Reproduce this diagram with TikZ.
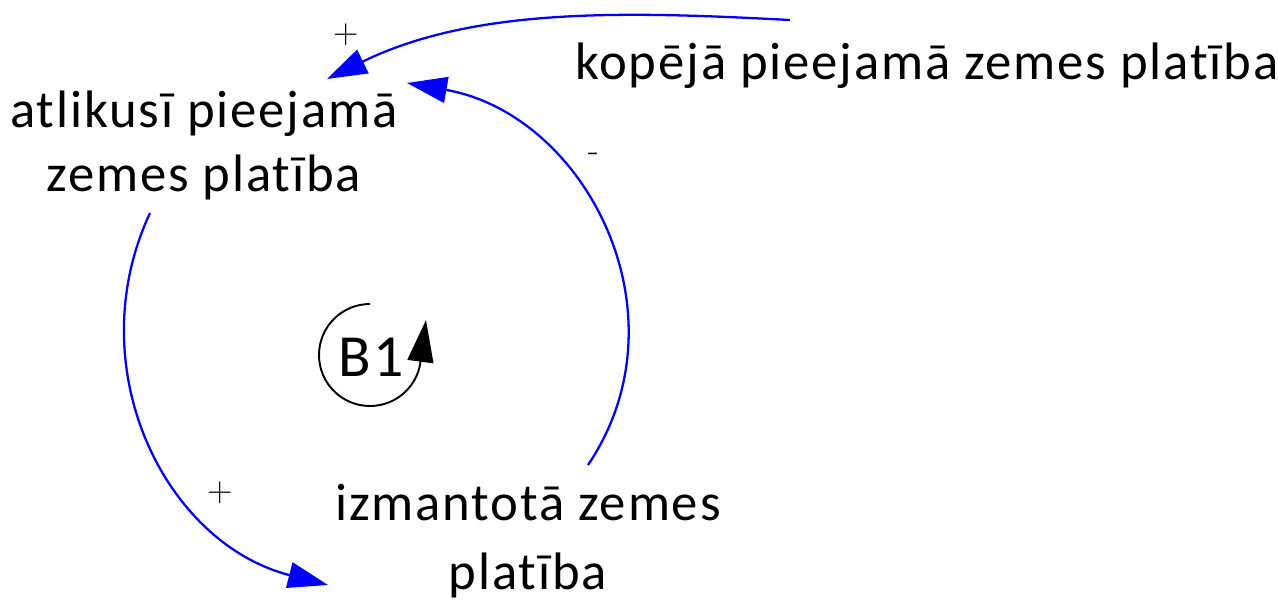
\documentclass[tikz,border=0pt]{standalone}
\usepackage{fontspec}
\newfontfamily\varfont{Carlito}[LetterSpace=3.5,Ligatures=NoCommon]
\usetikzlibrary{arrows.meta}
\tikzset{
  var/.style={font=\varfont\fontsize{30}{36}\selectfont, align=center, inner sep=0pt, anchor=base},
  link/.style={draw=blue, line width=1.3pt, -{Triangle[length=0.8cm,width=0.52cm]}},
  sgn/.style={font=\fontsize{20}{22}\selectfont, inner sep=0pt}
}
\begin{document}
\begin{tikzpicture}[x=0.02cm, y=0.02cm]
\useasboundingbox (0,0) rectangle (1278,600);
\node[var] (total) at (927,521) {kopējā pieejamā zemes platība};
\node[var] (remain) at (204,409) {atlikusī pieejamā\\zemes platība};
\node[var] (used) at (528,11) {izmantotā zemes\\[3pt]platība};
% links
\draw[link] ([shift={(-137,59)}]total.base) to[out=177,in=26,looseness=0.9] ([shift={(123,112)}]remain.base);
\draw[link] ([shift={(60,124)}]used.base) to[out=56,in=-10,looseness=1.1] ([shift={(203,108)}]remain.base);
\draw[link] ([shift={(-54,-22)}]remain.base) to[out=245,in=165.6,looseness=1.05] ([shift={(-200,4)}]used.base);
\node[sgn] (s1) at (346,565) {+};
\node[sgn] (s2) at (594,443) {-};
\node[sgn] (s3) at (220,107) {+};
% loop
\node[font=\varfont\fontsize{34}{36}\selectfont, inner sep=0pt] (b1) at (371,243) {B1};
\draw[line width=1.1pt, -{Triangle[length=0.84cm,width=0.52cm]}] (370,296) arc[start angle=90, end angle=357, radius=51] -- (426,280);
\end{tikzpicture}
\end{document}
